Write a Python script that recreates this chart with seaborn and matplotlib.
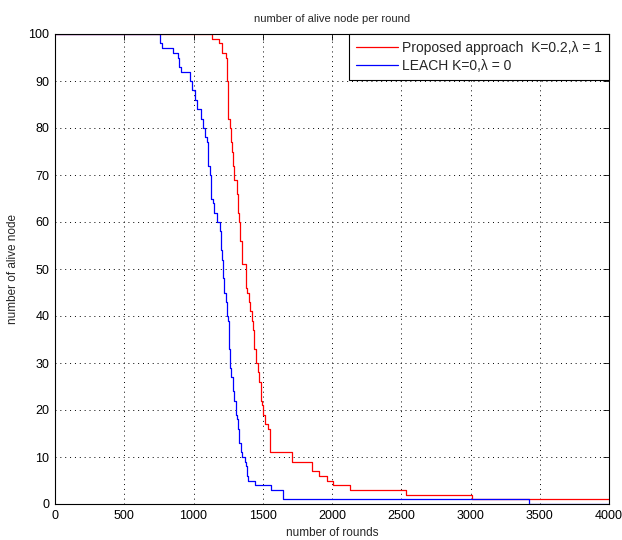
import matplotlib
matplotlib.use("Agg")
import matplotlib.pyplot as plt
import seaborn as sns
import pandas as pd

# Proposed approach (K=0.2, lambda=1): change points (round, alive nodes)
red_rounds = [0, 1130, 1187, 1204, 1233, 1240, 1244, 1251, 1262, 1268, 1275, 1282, 1294,
              1311, 1323, 1330, 1336, 1348, 1376, 1389, 1398, 1408, 1420, 1432, 1439,
              1449, 1463, 1473, 1485, 1492, 1504, 1516, 1540, 1552, 1713, 1853, 1908,
              1966, 2005, 2130, 2535, 3008, 4000]
red_alive = [100, 99, 98, 96, 95, 93, 90, 82, 80, 77, 75, 72, 69,
             66, 62, 60, 56, 51, 46, 45, 43, 41, 39, 37, 33,
             30, 28, 26, 22, 21, 19, 17, 16, 11, 9, 7, 6,
             5, 4, 3, 2, 1, 1]

# LEACH (K=0, lambda=0)
blue_rounds = [0, 758, 770, 854, 890, 895, 907, 975, 989, 1011, 1025, 1055, 1066,
               1083, 1095, 1107, 1119, 1126, 1138, 1148, 1167, 1191, 1198, 1208, 1215,
               1222, 1232, 1239, 1251, 1256, 1264, 1271, 1283, 1292, 1307, 1316, 1323,
               1331, 1341, 1352, 1372, 1379, 1383, 1395, 1444, 1560, 1648, 3422, 4000]
blue_alive = [100, 98, 97, 96, 95, 93, 92, 90, 88, 86, 84, 82, 80,
              78, 77, 72, 70, 65, 64, 62, 60, 58, 54, 52, 48,
              45, 43, 40, 39, 33, 29, 27, 24, 22, 19, 18, 16,
              13, 11, 10, 9, 8, 6, 5, 4, 3, 1, 0, 0]

labels = ["Proposed approach  K=0.2,\u03bb = 1", "LEACH K=0,\u03bb = 0"]
title = "number of alive node per round"
xlabel = "number of rounds"
ylabel = "number of alive node"
xticks = [0, 500, 1000, 1500, 2000, 2500, 3000, 3500, 4000]
yticks = [0, 10, 20, 30, 40, 50, 60, 70, 80, 90, 100]

sns.set_style("white")
plt.rcParams['font.family'] = ['Liberation Sans', 'DejaVu Sans']

df_red = pd.DataFrame({"rounds": red_rounds, "alive": red_alive})
df_blue = pd.DataFrame({"rounds": blue_rounds, "alive": blue_alive})

fig = plt.figure(figsize=(6.22, 5.40), dpi=100)
fig.patch.set_facecolor("white")
ax = fig.add_axes([55/622, 1-504/540, (609-55)/622, (504-34)/540])

sns.lineplot(data=df_red, x="rounds", y="alive", ax=ax, color="#ff0000",
             drawstyle="steps-post", linewidth=0.9, sort=False, label=labels[0],
             estimator=None)
sns.lineplot(data=df_blue, x="rounds", y="alive", ax=ax, color="#0000ff",
             drawstyle="steps-post", linewidth=0.9, sort=False, label=labels[1],
             estimator=None)

ax.set_xlim(0, 4000)
ax.set_ylim(0, 100)
ax.set_xticks(xticks)
ax.set_yticks(yticks)
ax.set_xticklabels([str(t) for t in xticks])
ax.set_yticklabels([str(t) for t in yticks])
ax.tick_params(direction="in", top=True, right=True, length=4, width=0.6,
               labelsize=9, color="black", labelcolor="black", pad=4)
ax.grid(True, color="black", linestyle=(0, (1, 4)), linewidth=0.7)
for s in ax.spines.values():
    s.set_visible(True)
    s.set_color("black")
    s.set_linewidth(0.8)

ax.set_title(title, fontsize=8, pad=9)
ax.set_xlabel(xlabel, fontsize=8.5, labelpad=4)
ax.set_ylabel(ylabel, fontsize=8.5, labelpad=7)

leg = ax.legend(loc="upper right", borderaxespad=0, fontsize=10, frameon=True,
                fancybox=False, handlelength=3.0, handletextpad=0.3,
                borderpad=0.5, labelspacing=0.3)
leg.get_frame().set_edgecolor("black")
leg.get_frame().set_linewidth(0.8)
leg.get_frame().set_alpha(1)

fig.savefig("out.png", dpi=100, facecolor="white")
